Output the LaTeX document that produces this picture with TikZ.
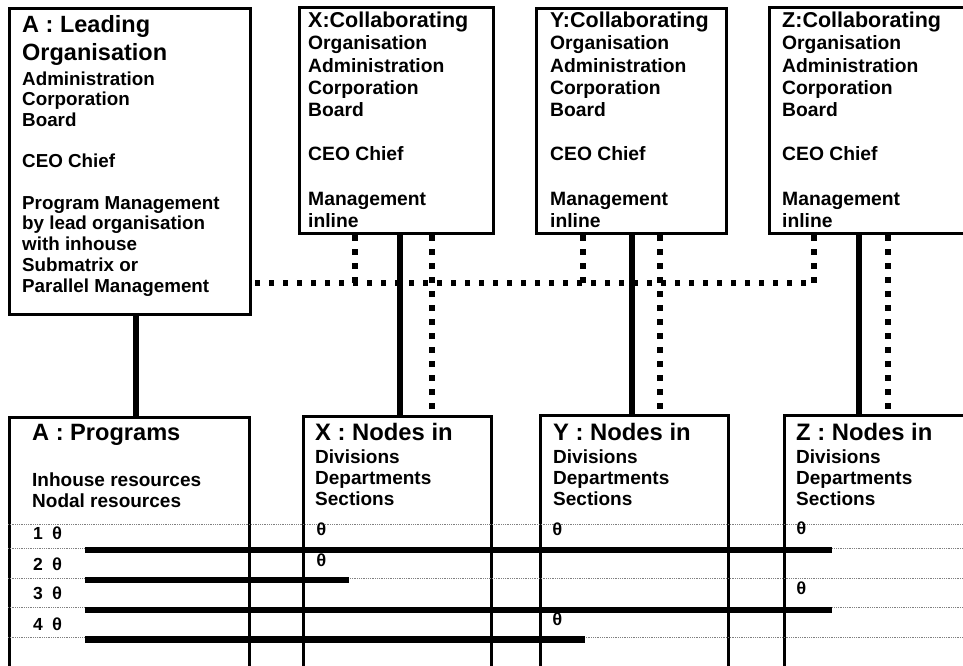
\documentclass[tikz,border=0pt]{standalone}
\usepackage{fontspec}
\setmainfont{Liberation Sans}
\newfontfamily\thetafont{Liberation Mono}
\begin{document}
\begin{tikzpicture}[x=1pt,y=-1pt,
  box/.style={draw, line width=3pt, inner sep=0pt, anchor=north west},
  txt/.style={anchor=base west, inner sep=0pt, font=\bfseries\fontsize{#1}{#1}\selectfont},
  solidcon/.style={line width=6pt},
  dotcon/.style={line width=5.5pt, dash pattern=on 5.5pt off 8.5pt},
  thinrule/.style={line width=0.8pt, black!50, densely dotted},
  bar/.style={line width=6.5pt},
  lab/.style={anchor=base west, inner sep=0pt, font=\bfseries\fontsize{17.5}{17.5}\selectfont}]
\useasboundingbox (0,0) rectangle (963,665);
\clip (0,0) rectangle (963,665);
\fill[white] (0,0) rectangle (963,665);

% top boxes
\node[box, minimum width=241pt, minimum height=306pt] (A) at (8,7) {};
\node[box, minimum width=194pt, minimum height=226pt] (X) at (298,6) {};
\node[box, minimum width=190pt, minimum height=225pt] (Y) at (535,7) {};
\node[box, minimum width=240pt, minimum height=226pt] (Z) at (768,6) {};
% bottom boxes
\node[box, minimum width=240pt, minimum height=290pt] (AP) at (8,416) {};
\node[box, minimum width=188pt, minimum height=290pt] (XN) at (302,415) {};
\node[box, minimum width=188pt, minimum height=290pt] (YN) at (539,414) {};
\node[box, minimum width=240pt, minimum height=290pt] (ZN) at (783,414) {};

% texts of A
\node[txt=23.5] (A-t1) at (22,32) {A : Leading};
\node[txt=23.5] (A-t2) at (22,60) {Organisation};
\foreach \t/\y [count=\i] in {Administration/85, Corporation/105.7, Board/126.4, CEO Chief/167.8, Program Management/209.2, by lead organisation/229.9, with inhouse/250.6, Submatrix or/271.3, Parallel Management/292}
  \node[txt=18.8] (A-l\i) at (22,\y) {\t};

% texts of collaborating organisations
\foreach \B/\x in {X/308, Y/550, Z/782}{
  \node[txt=21.5] (\B-t) at (\x,27) {\B:Collaborating};
  \foreach \t/\y [count=\i] in {Organisation/49.8, Administration/72, Corporation/94.2, Board/116.4, CEO Chief/160.8, Management/205.2, inline/227.4}
    \node[txt=19.3] (\B-l\i) at (\x,\y) {\t};
}

% bottom texts
\node[txt=23.6] (AP-t) at (32,440) {A : Programs};
\node[txt=19] (AP-l1) at (32,486) {Inhouse resources};
\node[txt=19] (AP-l2) at (32,507) {Nodal resources};
\foreach \B/\x in {X/315, Y/553, Z/796}{
  \node[txt=23.8] (\B N-t) at (\x,440) {\B\ : Nodes in};
  \foreach \t/\y [count=\i] in {Divisions/463, Departments/484, Sections/505.5}
    \node[txt=19] (\B N-l\i) at (\x,\y) {\t};
}

% connectors
\coordinate (bus) at (0,283);
\draw[solidcon] ([xshift=128pt]A.south west) -- ([xshift=128pt]A.south west |- AP.north);
\draw[solidcon] ([xshift=102pt]X.south west) -- ([xshift=102pt]X.south west |- XN.north);
\draw[solidcon] ([xshift=97pt]Y.south west) -- ([xshift=97pt]Y.south west |- YN.north);
\draw[solidcon] ([xshift=91pt]Z.south west) -- ([xshift=91pt]Z.south west |- ZN.north);
\draw[dotcon] ([xshift=134pt]X.south west) -- ([xshift=134pt]X.south west |- XN.north);
\draw[dotcon] ([xshift=125pt]Y.south west) -- ([xshift=125pt]Y.south west |- YN.north);
\draw[dotcon] ([xshift=120pt]Z.south west) -- ([xshift=120pt]Z.south west |- ZN.north);
\draw[dotcon] ([xshift=57pt]X.south west) -- ([xshift=57pt]X.south west |- bus);
\draw[dotcon] ([xshift=48pt]Y.south west) -- ([xshift=48pt]Y.south west |- bus);
\draw[dotcon] ([xshift=46pt]Z.south west) |- ([xshift=1.5pt]A.east |- bus);

% table rules
\coordinate (R) at (963,0);
\foreach \y [count=\i] in {524,548,578,607,637}{
  \coordinate (r\i) at (0,\y);
  \draw[thinrule] (AP.west |- r\i) -- (R |- r\i);
}
\coordinate (b0) at (85,0);
\coordinate (e1) at (832,550);
\coordinate (e2) at (349,580);
\coordinate (e3) at (832,610);
\coordinate (e4) at (585,639.5);
\foreach \i in {1,2,3,4}
  \draw[bar] (b0 |- e\i) -- (e\i);

% row labels
\foreach \n/\y in {1/539, 2/570, 3/599, 4/630}
  \node[lab] (row\n) at (33,\y) {\n\hspace{9pt}{\thetafont θ}};
\node[lab] (thX1) at (316,535) {\thetafont θ};
\node[lab] (thX2) at (316,566) {\thetafont θ};
\node[lab] (thY1) at (552,535) {\thetafont θ};
\node[lab] (thY4) at (552,625) {\thetafont θ};
\node[lab] (thZ1) at (796,534) {\thetafont θ};
\node[lab] (thZ3) at (796,594) {\thetafont θ};
\end{tikzpicture}
\end{document}
